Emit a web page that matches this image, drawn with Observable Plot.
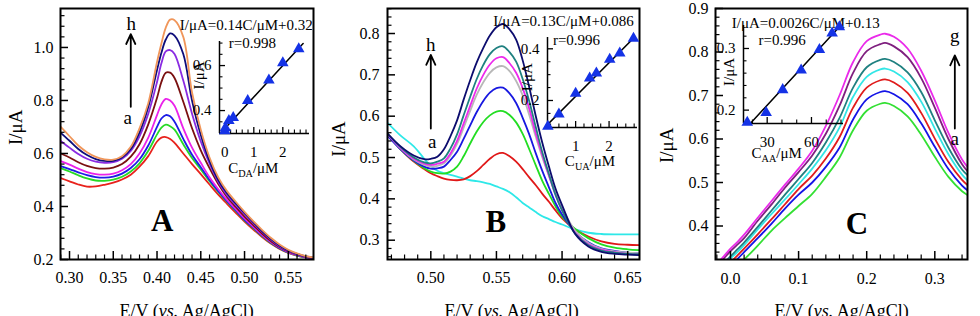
<!DOCTYPE html>
<html><head><meta charset="utf-8">
<script src="https://cdn.jsdelivr.net/npm/d3@7"></script>
<script src="https://cdn.jsdelivr.net/npm/@observablehq/plot@0.6"></script>
<style>
body{margin:0;background:#fff;}
#root{position:relative;width:980px;height:316px;overflow:hidden;background:#fff;font-family:"Liberation Serif","Times New Roman",serif;}
#root svg{position:absolute;left:0;top:0;}
.lbl{position:absolute;white-space:nowrap;transform:translateX(-50%);color:#000;line-height:1;}
.lbl sub{font-size:0.68em;vertical-align:-0.35em;line-height:0;}
</style></head><body><div id="root"></div>
<script>
// ---------- Panel A : DA ----------
const xA = [0.29,0.30,0.31,0.32,0.33,0.34,0.35,0.36,0.37,0.38,0.39,0.40,0.405,0.41,0.415,0.42,0.43,0.44,0.45,0.46,0.47,0.48,0.49,0.50,0.51,0.52,0.53,0.54,0.55,0.56,0.57,0.578];
const daA = [0.507,0.495,0.483,0.475,0.476,0.482,0.49,0.502,0.52,0.55,0.59,0.645,0.66,0.662,0.655,0.64,0.6,0.56,0.522,0.483,0.445,0.41,0.376,0.343,0.313,0.285,0.26,0.24,0.225,0.215,0.208,0.204];
const daB = [0.545,0.532,0.518,0.506,0.498,0.497,0.501,0.512,0.532,0.563,0.61,0.672,0.698,0.709,0.703,0.69,0.635,0.583,0.54,0.495,0.455,0.418,0.383,0.348,0.318,0.288,0.262,0.242,0.226,0.215,0.208,0.205];
const daC = [0.552,0.541,0.529,0.518,0.511,0.509,0.513,0.524,0.545,0.578,0.63,0.70,0.732,0.745,0.74,0.72,0.655,0.595,0.548,0.5,0.458,0.42,0.385,0.35,0.32,0.29,0.264,0.243,0.227,0.216,0.208,0.205];
const daD = [0.571,0.558,0.543,0.53,0.522,0.52,0.524,0.537,0.56,0.6,0.66,0.745,0.785,0.806,0.8,0.78,0.695,0.622,0.565,0.51,0.465,0.425,0.39,0.355,0.323,0.293,0.266,0.245,0.228,0.217,0.209,0.205];
const daE = [0.60,0.585,0.567,0.553,0.545,0.543,0.547,0.56,0.588,0.635,0.71,0.81,0.87,0.905,0.905,0.885,0.795,0.695,0.612,0.545,0.485,0.436,0.398,0.362,0.33,0.298,0.27,0.247,0.23,0.218,0.21,0.206];
const daF = [0.647,0.622,0.598,0.58,0.569,0.565,0.567,0.58,0.61,0.665,0.75,0.87,0.94,0.985,0.99,0.975,0.875,0.75,0.645,0.562,0.493,0.443,0.406,0.371,0.337,0.304,0.275,0.25,0.232,0.219,0.211,0.207];
const daG = [0.678,0.648,0.617,0.594,0.579,0.572,0.572,0.585,0.617,0.68,0.775,0.915,0.98,1.03,1.053,1.045,0.975,0.80,0.67,0.572,0.5,0.45,0.412,0.376,0.341,0.307,0.278,0.253,0.234,0.221,0.212,0.207];
const daH = [0.70,0.665,0.63,0.605,0.587,0.578,0.577,0.59,0.625,0.695,0.79,0.945,1.015,1.075,1.105,1.103,1.04,0.83,0.69,0.585,0.51,0.458,0.418,0.38,0.345,0.312,0.282,0.257,0.237,0.223,0.213,0.208];
const colorsA = ["#e8221c","#26d926","#1c1ce6","#ea22ea","#7a1010","#8a2be2","#0d0d7a","#f0965a"];
const daConc = [0.0,0.02,0.14,0.29,0.79,1.52,2.0,2.55];
const daPeak = [0.31,0.323,0.355,0.368,0.444,0.535,0.612,0.674];
const daFit = {slope:0.14, intercept:0.32, from:-0.1, to:2.7};

// ---------- Panel B : UA ----------
const xB = [0.467,0.477,0.487,0.495,0.50,0.505,0.51,0.515,0.52,0.525,0.53,0.535,0.54,0.545,0.55,0.555,0.56,0.565,0.57,0.575,0.58,0.585,0.59,0.595,0.60,0.61,0.62,0.63,0.64,0.65,0.659];
const uaA = [0.584,0.553,0.527,0.497,0.48,0.468,0.462,0.458,0.454,0.449,0.445,0.443,0.44,0.436,0.43,0.424,0.416,0.404,0.39,0.379,0.368,0.358,0.351,0.344,0.338,0.326,0.318,0.315,0.314,0.314,0.314];
const uaB = [0.556,0.52,0.49,0.472,0.462,0.455,0.449,0.446,0.445,0.447,0.455,0.467,0.482,0.497,0.508,0.511,0.503,0.49,0.472,0.452,0.433,0.412,0.393,0.372,0.353,0.326,0.309,0.297,0.291,0.289,0.288];
const uaC = [0.555,0.52,0.492,0.474,0.466,0.462,0.461,0.466,0.478,0.503,0.534,0.563,0.586,0.602,0.611,0.612,0.603,0.585,0.557,0.52,0.481,0.443,0.412,0.382,0.357,0.327,0.305,0.29,0.282,0.278,0.276];
const uaD = [0.553,0.52,0.493,0.478,0.473,0.474,0.478,0.494,0.514,0.545,0.578,0.61,0.637,0.657,0.668,0.669,0.655,0.632,0.596,0.556,0.51,0.467,0.428,0.39,0.362,0.32,0.295,0.28,0.274,0.27,0.268];
const uaE = [0.557,0.522,0.495,0.482,0.478,0.48,0.486,0.505,0.533,0.572,0.613,0.652,0.682,0.705,0.718,0.721,0.709,0.685,0.65,0.603,0.55,0.5,0.456,0.414,0.378,0.323,0.293,0.279,0.273,0.27,0.268];
const uaF = [0.557,0.523,0.497,0.485,0.482,0.485,0.49,0.51,0.54,0.582,0.625,0.667,0.7,0.725,0.74,0.743,0.728,0.705,0.668,0.618,0.558,0.505,0.456,0.41,0.373,0.318,0.29,0.277,0.271,0.267,0.266];
const uaG = [0.558,0.525,0.5,0.488,0.486,0.49,0.498,0.522,0.556,0.602,0.647,0.69,0.724,0.75,0.765,0.769,0.755,0.732,0.69,0.636,0.573,0.512,0.46,0.41,0.372,0.316,0.288,0.275,0.27,0.267,0.266];
const uaH = [0.558,0.527,0.505,0.496,0.497,0.502,0.52,0.552,0.59,0.64,0.687,0.73,0.765,0.795,0.815,0.823,0.81,0.785,0.735,0.67,0.6,0.535,0.478,0.425,0.385,0.315,0.285,0.272,0.267,0.265,0.264];
const colorsB = ["#2ee8e8","#e01818","#22dd22","#1818e0","#b8b8b8","#ec2aec","#1f8080","#0c0c6e"];
const uaConc = [0.17,0.5,1.0,1.42,1.62,2.02,2.32,2.73];
const uaPeak = [0.1,0.147,0.227,0.286,0.306,0.359,0.383,0.44];
const uaFit = {slope:0.13, intercept:0.086, from:0.15, to:2.8};

// ---------- Panel C : AA ----------
const xC = [-0.022,-0.01,0.0,0.01,0.02,0.04,0.06,0.08,0.10,0.12,0.14,0.16,0.18,0.20,0.22,0.227,0.24,0.26,0.28,0.30,0.32,0.34,0.348];
const aaA = [0.26,0.278,0.295,0.31,0.323,0.355,0.389,0.418,0.446,0.474,0.513,0.557,0.62,0.665,0.681,0.683,0.676,0.652,0.61,0.559,0.513,0.48,0.471];
const aaB = [0.27,0.29,0.31,0.324,0.34,0.372,0.405,0.44,0.472,0.5,0.536,0.58,0.645,0.691,0.708,0.71,0.703,0.68,0.636,0.582,0.531,0.493,0.482];
const aaC = [0.28,0.3,0.316,0.332,0.348,0.381,0.415,0.45,0.485,0.516,0.555,0.604,0.672,0.718,0.735,0.737,0.73,0.706,0.66,0.601,0.547,0.506,0.494];
const aaD = [0.29,0.31,0.325,0.34,0.356,0.392,0.427,0.461,0.496,0.532,0.574,0.626,0.697,0.743,0.76,0.762,0.755,0.731,0.686,0.624,0.565,0.518,0.505];
const aaE = [0.295,0.315,0.33,0.346,0.362,0.398,0.435,0.472,0.508,0.545,0.592,0.648,0.718,0.765,0.782,0.784,0.777,0.753,0.708,0.643,0.58,0.53,0.517];
const aaF = [0.305,0.325,0.342,0.357,0.372,0.412,0.449,0.488,0.524,0.562,0.612,0.676,0.752,0.802,0.818,0.821,0.813,0.788,0.74,0.672,0.6,0.542,0.526];
const aaG = [0.31,0.33,0.348,0.363,0.38,0.419,0.457,0.495,0.532,0.573,0.63,0.70,0.777,0.825,0.84,0.842,0.835,0.808,0.757,0.689,0.614,0.553,0.536];
const colorsC = ["#33e033","#1414e6","#e01c1c","#33e6e6","#1f8080","#7f1f7f","#ea2aea"];
const aaConc = [16.5,29.3,40.5,53.0,65.4,74.0,78.9];
const aaPeak = [0.18,0.196,0.233,0.265,0.298,0.325,0.335];
const aaFit = {slope:0.0026, intercept:0.13, from:14, to:82};

// tick labels
const ticksXA = [0.30,0.35,0.40,0.45,0.50,0.55], ticksYA = [0.2,0.4,0.6,0.8,1.0];
const ticksXB = [0.50,0.55,0.60,0.65], ticksYB = [0.3,0.4,0.5,0.6,0.7,0.8];
const ticksXC = [0.0,0.1,0.2,0.3], ticksYC = [0.4,0.5,0.6,0.7,0.8,0.9];
const insetTicksA = {x:[0,1,2], y:[0.4,0.6]};
const insetTicksB = {x:[1,2], y:[0.2,0.4]};
const insetTicksC = {x:[30,60], y:[0.2,0.3]};

// ---------- drawing ----------
const W = 980, H = 316;
const FONT = '"Liberation Serif","Times New Roman",serif';
const root = document.getElementById("root");

function minorTicks(domain, step, majors) {
  const lo = Math.min(...domain), hi = Math.max(...domain), out = [];
  for (let k = Math.ceil(lo / step - 1e-9); k * step <= hi + 1e-9; k++) {
    const v = +(k * step).toFixed(6);
    if (!majors.some(m => Math.abs(m - v) < step / 10)) out.push(v);
  }
  return out;
}

function mainPanel(p) {
  const [L, T, R, B] = p.frame, iw = R - L, ih = B - T;
  return Plot.plot({
    width: W, height: H, marginLeft: L, marginRight: W - R, marginTop: T, marginBottom: H - B,
    style: {background: "transparent", fontFamily: FONT, fontSize: "16px", color: "#000", overflow: "visible"},
    x: {domain: p.xDomain, ticks: p.xMajor, tickFormat: d3.format(p.xFmt), tickSize: 0, tickPadding: p.xPad, label: null},
    y: {domain: p.yDomain, ticks: p.yMajor, tickFormat: d3.format(p.yFmt), tickSize: 0, tickPadding: p.yPad, label: null},
    marks: [
      ...p.curves.map((ys, i) => Plot.line(ys.map((y, j) => [p.xs[j], y]),
        {stroke: p.colors[i], strokeWidth: 1.8, curve: "catmull-rom", clip: true})),
      Plot.ruleX(p.xMajor, {insetTop: ih - 8, strokeWidth: 1.5}),
      Plot.ruleX(minorTicks(p.xDomain, p.xStep, p.xMajor), {insetTop: ih - 4.5, strokeWidth: 1.2}),
      Plot.ruleY(p.yMajor, {insetRight: iw - 8, strokeWidth: 1.5}),
      Plot.ruleY(minorTicks(p.yDomain, p.yStep, p.yMajor), {insetRight: iw - 4.5, strokeWidth: 1.2}),
      Plot.frame({strokeWidth: 2}),
      ...p.extra
    ]
  });
}

function insetPanel(p) {
  const [L, T, R, B] = p.frame, iw = R - L, ih = B - T;
  const fitPts = [p.fit.from, p.fit.to].map(c => [c, p.fit.slope * c + p.fit.intercept]);
  return Plot.plot({
    width: W, height: H, marginLeft: L, marginRight: W - R, marginTop: T, marginBottom: H - B,
    style: {background: "transparent", fontFamily: FONT, fontSize: "15px", color: "#000", overflow: "visible"},
    x: {domain: p.xDomain, ticks: p.ticks.x, tickFormat: d3.format("d"), tickSize: 0, tickPadding: 13, label: null},
    y: {domain: p.yDomain, ticks: p.ticks.y, tickFormat: d3.format(".1f"), tickSize: 0, tickPadding: 8, label: null},
    marks: [
      Plot.ruleX([p.xDomain[0]], {strokeWidth: 1.5}),
      Plot.ruleY([p.yDomain[0]], {strokeWidth: 1.5}),
      Plot.ruleX(p.ticks.x, {insetTop: ih - 6, strokeWidth: 1.3}),
      Plot.ruleX(minorTicks(p.xDomain, p.xStep, p.ticks.x), {insetTop: ih - 3.5, strokeWidth: 1.1}),
      Plot.ruleY(p.ticks.y, {insetRight: iw - 6, strokeWidth: 1.3}),
      Plot.ruleY(minorTicks(p.yDomain, p.yStep, p.ticks.y), {insetRight: iw - 3.5, strokeWidth: 1.1}),
      Plot.line(fitPts, {stroke: "#000", strokeWidth: 1.5, clip: true}),
      Plot.dot(p.conc.map((c, i) => [c, p.peak[i]]), {symbol: "triangle", fill: "#1432e6", r: 4.3}),
      Plot.text([p.ylab], {x: "x", y: "y", text: () => "I/\u03bcA", rotate: -90, fontSize: 15})
    ]
  });
}

function txt(items, opts) { return Plot.text(items, {x: "x", y: "y", text: "t", ...opts}); }
function arrow(a) { return Plot.arrow([a], {x1: "x", x2: "x", y1: "y1", y2: "y2", strokeWidth: 1.8, headLength: 9, headAngle: 50}); }

const panels = [
  mainPanel({
    frame: [60, 8, 313, 259], xDomain: [0.2897, 0.5788], yDomain: [0.2, 1.147],
    xMajor: ticksXA, yMajor: ticksYA, xStep: 0.01, yStep: 0.04, xFmt: ".2f", yFmt: ".1f", xPad: 12, yPad: 7,
    xs: xA, curves: [daA, daB, daC, daD, daE, daF, daG, daH], colors: colorsA,
    extra: [
      txt([{x: 0.2382, y: 0.699, t: "I/\u03bcA"}], {rotate: -90, fontSize: 19}),
      txt([{x: 0.406, y: 0.345, t: "A"}], {fontSize: 31, fontWeight: "bold"}),
      arrow({x: 0.37, y1: 0.776, y2: 1.05}),
      txt([{x: 0.3705, y: 1.087, t: "h"}, {x: 0.3665, y: 0.735, t: "a"}], {fontSize: 19}),
      txt([{x: 0.502, y: 1.084, t: "I/\u03bcA=0.14C/\u03bcM+0.32"}], {fontSize: 15}),
      txt([{x: 0.509, y: 1.015, t: "r=0.998"}], {fontSize: 15})
    ]
  }),
  insetPanel({frame: [219, 41, 309, 133], xDomain: [-0.183, 2.92], yDomain: [0.298, 0.707],
    ticks: insetTicksA, xStep: 0.2, yStep: 0.05, conc: daConc, peak: daPeak, fit: daFit,
    ylab: {x: -0.87, y: 0.556}}),
  mainPanel({
    frame: [387, 8, 639, 259], xDomain: [0.467, 0.659], yDomain: [0.2533, 0.8605],
    xMajor: ticksXB, yMajor: ticksYB, xStep: 0.01, yStep: 0.02, xFmt: ".2f", yFmt: ".1f", xPad: 12, yPad: 8,
    xs: xB, curves: [uaA, uaB, uaC, uaD, uaE, uaF, uaG, uaH], colors: colorsB,
    extra: [
      txt([{x: 0.430, y: 0.545, t: "I/\u03bcA"}], {rotate: -90, fontSize: 19}),
      txt([{x: 0.5496, y: 0.345, t: "B"}], {fontSize: 31, fontWeight: "bold"}),
      arrow({x: 0.50, y1: 0.570, y2: 0.748}),
      txt([{x: 0.50, y: 0.772, t: "h"}, {x: 0.501, y: 0.538, t: "a"}], {fontSize: 19}),
      txt([{x: 0.601, y: 0.830, t: "I/\u03bcA=0.13C/\u03bcM+0.086"}], {fontSize: 15}),
      txt([{x: 0.611, y: 0.784, t: "r=0.996"}], {fontSize: 15})
    ]
  }),
  insetPanel({frame: [547, 37, 637, 127], xDomain: [0.159, 2.85], yDomain: [0.0955, 0.4437],
    ticks: insetTicksB, xStep: 0.25, yStep: 0.05, conc: uaConc, peak: uaPeak, fit: uaFit,
    ylab: {x: -0.45, y: 0.29}}),
  mainPanel({
    frame: [715, 8, 967, 259], xDomain: [-0.022, 0.348], yDomain: [0.323, 0.90],
    xMajor: ticksXC, yMajor: ticksYC, xStep: 0.02, yStep: 0.02, xFmt: ".1f", yFmt: ".1f", xPad: 13, yPad: 7,
    xs: xC, curves: [aaA, aaB, aaC, aaD, aaE, aaF, aaG], colors: colorsC,
    extra: [
      txt([{x: -0.0927, y: 0.5855, t: "I/\u03bcA"}], {rotate: -90, fontSize: 19}),
      txt([{x: 0.1855, y: 0.405, t: "C"}], {fontSize: 31, fontWeight: "bold"}),
      arrow({x: 0.3294, y1: 0.624, y2: 0.792}),
      txt([{x: 0.3294, y: 0.836, t: "g"}, {x: 0.3294, y: 0.601, t: "a"}], {fontSize: 19}),
      txt([{x: 0.1105, y: 0.8667, t: "I/\u03bcA=0.0026C/\u03bcM+0.13"}], {fontSize: 15}),
      txt([{x: 0.0757, y: 0.827, t: "r=0.996"}], {fontSize: 15})
    ]
  }),
  insetPanel({frame: [743, 25, 843, 123], xDomain: [13.95, 81.7], yDomain: [0.1783, 0.3373],
    ticks: insetTicksC, xStep: 10, yStep: 0.02, conc: aaConc, peak: aaPeak, fit: aaFit,
    ylab: {x: 4.5, y: 0.262}})
];
panels.forEach(svg => root.appendChild(svg));

// HTML labels with italic / subscripts
const labels = [
  {x: 186.7, y: 302, s: 18, h: 'E/V (<i>vs.</i> Ag/AgCl)'},
  {x: 511.7, y: 302, s: 18, h: 'E/V (<i>vs.</i> Ag/AgCl)'},
  {x: 841.7, y: 302, s: 18, h: 'E/V (<i>vs.</i> Ag/AgCl)'},
  {x: 253.3, y: 160.5, s: 15, h: 'C<sub>DA</sub>/\u03bcM'},
  {x: 590, y: 154, s: 15, h: 'C<sub>UA</sub>/\u03bcM'},
  {x: 776.7, y: 145.7, s: 15, h: 'C<sub>AA</sub>/\u03bcM'}
];
labels.forEach(l => {
  const d = document.createElement("div");
  d.className = "lbl";
  d.style.left = l.x + "px"; d.style.top = l.y + "px"; d.style.fontSize = l.s + "px";
  d.innerHTML = l.h;
  root.appendChild(d);
});
</script></body></html>
